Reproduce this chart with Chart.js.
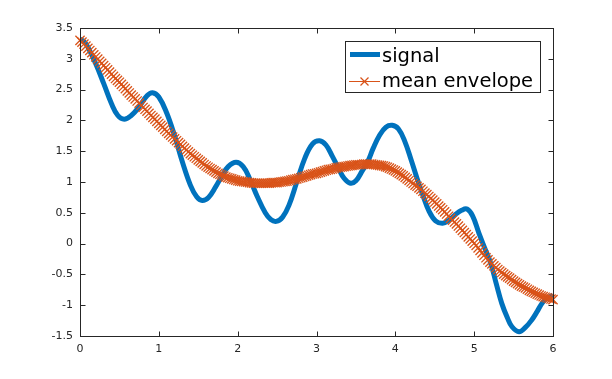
<!DOCTYPE html>
<html>
<head>
<meta charset="utf-8">
<script src="https://cdn.jsdelivr.net/npm/chart.js@4/dist/chart.umd.min.js"></script>
<style>
  body { margin: 0; background: #fff; }
  canvas { display: block; }
</style>
</head>
<body>
<canvas id="plot" width="612" height="379"></canvas>
<script>
// signal (key points)
const signalX = [0, 0.05, 0.1, 0.2, 0.3, 0.4, 0.48, 0.56, 0.65, 0.75, 0.85, 0.92, 1.0, 1.1, 1.2, 1.3, 1.4, 1.48, 1.55,
  1.63, 1.72, 1.8, 1.88, 1.98, 2.07, 2.15, 2.25, 2.35, 2.42, 2.49, 2.57, 2.65, 2.75, 2.85, 2.95, 3.04, 3.12, 3.2,
  3.28, 3.35, 3.43, 3.5, 3.58, 3.65, 3.72, 3.8, 3.88, 3.96, 4.04, 4.12, 4.2, 4.27, 4.34, 4.43, 4.51, 4.6, 4.68, 4.76,
  4.84, 4.91, 4.98, 5.06, 5.13, 5.21, 5.28, 5.35, 5.42, 5.48, 5.57, 5.65, 5.73, 5.8, 5.86, 5.92, 6.0];
const signalY = [3.32, 3.28, 3.19, 2.92, 2.60, 2.27, 2.08, 2.02, 2.08, 2.22, 2.40, 2.45, 2.38, 2.12, 1.75, 1.32, 0.95, 0.76, 0.70,
  0.75, 0.92, 1.10, 1.25, 1.32, 1.25, 1.06, 0.76, 0.50, 0.39, 0.36, 0.43, 0.62, 1.00, 1.38, 1.62, 1.67, 1.60, 1.42,
  1.22, 1.06, 0.98, 1.02, 1.18, 1.33, 1.55, 1.76, 1.89, 1.92, 1.86, 1.66, 1.36, 1.08, 0.82, 0.52, 0.37, 0.33, 0.38, 0.47,
  0.54, 0.56, 0.45, 0.17, -0.06, -0.32, -0.65, -0.97, -1.20, -1.35, -1.43, -1.36, -1.24, -1.10, -0.97, -0.89, -0.84];

// mean envelope (dense samples, each marked with an x)
const envX = [
  0, 0.025, 0.05, 0.075, 0.1, 0.125, 0.15, 0.175, 0.2, 0.225,
  0.25, 0.275, 0.3, 0.325, 0.35, 0.375, 0.4, 0.425, 0.45, 0.475,
  0.5, 0.525, 0.55, 0.575, 0.6, 0.625, 0.65, 0.675, 0.7, 0.725,
  0.75, 0.775, 0.8, 0.825, 0.85, 0.875, 0.9, 0.925, 0.95, 0.975,
  1, 1.025, 1.05, 1.075, 1.1, 1.125, 1.15, 1.175, 1.2, 1.225,
  1.25, 1.275, 1.3, 1.325, 1.35, 1.375, 1.4, 1.425, 1.45, 1.475,
  1.5, 1.525, 1.55, 1.575, 1.6, 1.625, 1.65, 1.675, 1.7, 1.725,
  1.75, 1.775, 1.8, 1.825, 1.85, 1.875, 1.9, 1.925, 1.95, 1.975,
  2, 2.025, 2.05, 2.075, 2.1, 2.125, 2.15, 2.175, 2.2, 2.225,
  2.25, 2.275, 2.3, 2.325, 2.35, 2.375, 2.4, 2.425, 2.45, 2.475,
  2.5, 2.525, 2.55, 2.575, 2.6, 2.625, 2.65, 2.675, 2.7, 2.725,
  2.75, 2.775, 2.8, 2.825, 2.85, 2.875, 2.9, 2.925, 2.95, 2.975,
  3, 3.025, 3.05, 3.075, 3.1, 3.125, 3.15, 3.175, 3.2, 3.225,
  3.25, 3.275, 3.3, 3.325, 3.35, 3.375, 3.4, 3.425, 3.45, 3.475,
  3.5, 3.525, 3.55, 3.575, 3.6, 3.625, 3.65, 3.675, 3.7, 3.725,
  3.75, 3.775, 3.8, 3.825, 3.85, 3.875, 3.9, 3.925, 3.95, 3.975,
  4, 4.025, 4.05, 4.075, 4.1, 4.125, 4.15, 4.175, 4.2, 4.225,
  4.25, 4.275, 4.3, 4.325, 4.35, 4.375, 4.4, 4.425, 4.45, 4.475,
  4.5, 4.525, 4.55, 4.575, 4.6, 4.625, 4.65, 4.675, 4.7, 4.725,
  4.75, 4.775, 4.8, 4.825, 4.85, 4.875, 4.9, 4.925, 4.95, 4.975,
  5, 5.025, 5.05, 5.075, 5.1, 5.125, 5.15, 5.175, 5.2, 5.225,
  5.25, 5.275, 5.3, 5.325, 5.35, 5.375, 5.4, 5.425, 5.45, 5.475,
  5.5, 5.525, 5.55, 5.575, 5.6, 5.625, 5.65, 5.675, 5.7, 5.725,
  5.75, 5.775, 5.8, 5.825, 5.85, 5.875, 5.9, 5.925, 5.95, 5.975,
  6];
const envY = [
  3.30, 3.27, 3.24, 3.205, 3.17, 3.135, 3.10, 3.065, 3.03, 2.995,
  2.96, 2.925, 2.89, 2.855, 2.82, 2.785, 2.75, 2.715, 2.68, 2.65,
  2.62, 2.585, 2.55, 2.515, 2.48, 2.445, 2.41, 2.38, 2.35, 2.315,
  2.28, 2.245, 2.21, 2.18, 2.15, 2.115, 2.08, 2.05, 2.02, 1.985,
  1.95, 1.92, 1.89, 1.855, 1.82, 1.79, 1.76, 1.73, 1.70, 1.67,
  1.64, 1.61, 1.58, 1.55, 1.52, 1.49, 1.46, 1.435, 1.41, 1.385,
  1.36, 1.335, 1.31, 1.285, 1.26, 1.24, 1.22, 1.20, 1.18, 1.16,
  1.14, 1.125, 1.11, 1.095, 1.08, 1.07, 1.06, 1.05, 1.04, 1.03,
  1.02, 1.015, 1.01, 1.005, 1.00, 0.995, 0.99, 0.985, 0.98, 0.98,
  0.98, 0.98, 0.98, 0.98, 0.98, 0.98, 0.98, 0.985, 0.99, 0.99,
  0.99, 0.995, 1.00, 1.005, 1.01, 1.015, 1.02, 1.03, 1.04, 1.045,
  1.05, 1.06, 1.07, 1.08, 1.09, 1.10, 1.11, 1.12, 1.13, 1.135,
  1.14, 1.15, 1.16, 1.17, 1.18, 1.19, 1.20, 1.205, 1.21, 1.22,
  1.23, 1.235, 1.24, 1.245, 1.25, 1.255, 1.26, 1.265, 1.27, 1.275,
  1.28, 1.28, 1.28, 1.285, 1.29, 1.29, 1.29, 1.29, 1.29, 1.285,
  1.28, 1.275, 1.27, 1.265, 1.26, 1.25, 1.24, 1.225, 1.21, 1.195,
  1.18, 1.16, 1.14, 1.12, 1.10, 1.075, 1.05, 1.025, 1.00, 0.975,
  0.95, 0.93, 0.905, 0.88, 0.85, 0.82, 0.795, 0.765, 0.735, 0.705,
  0.675, 0.645, 0.61, 0.58, 0.55, 0.515, 0.48, 0.445, 0.41, 0.38,
  0.35, 0.32, 0.285, 0.25, 0.215, 0.18, 0.145, 0.11, 0.075, 0.04,
  0.005, -0.03, -0.07, -0.11, -0.15, -0.19, -0.23, -0.265, -0.30, -0.33,
  -0.36, -0.39, -0.42, -0.445, -0.47, -0.495, -0.52, -0.54, -0.56, -0.585,
  -0.61, -0.63, -0.65, -0.67, -0.69, -0.705, -0.72, -0.74, -0.76, -0.775,
  -0.79, -0.805, -0.82, -0.835, -0.85, -0.86, -0.87, -0.88, -0.89, -0.90,
  -0.91];

const xTicks = [0, 1, 2, 3, 4, 5, 6];
const xTickLabels = ['0', '1', '2', '3', '4', '5', '6'];
const yTicks = [-1.5, -1, -0.5, 0, 0.5, 1, 1.5, 2, 2.5, 3, 3.5];
const yTickLabels = ['-1.5', '-1', '-0.5', '0', '0.5', '1', '1.5', '2', '2.5', '3', '3.5'];
const seriesNames = ['signal', 'mean envelope'];

const BLUE = '#0072BD';
const ORANGE = '#D95319';
const AXIS = '#262626';

function pts(xs, ys) {
  return xs.map((x, i) => ({ x: x, y: ys[i] }));
}

// matlab-ish box: frame, inward ticks on all sides, legend in the corner
const boxPlugin = {
  id: 'matlabBox',
  afterDraw(chart) {
    const ctx = chart.ctx;
    const a = chart.chartArea;
    const sx = chart.scales.x, sy = chart.scales.y;
    const L = a.left + 0.5, R = a.right + 0.5, T = a.top + 0.5, B = a.bottom + 0.5;
    ctx.save();
    ctx.strokeStyle = AXIS;
    ctx.lineWidth = 1;
    ctx.beginPath();
    xTicks.forEach(v => {
      const px = Math.round(sx.getPixelForValue(v)) + 0.5;
      ctx.moveTo(px, B); ctx.lineTo(px, B - 5);
      ctx.moveTo(px, T); ctx.lineTo(px, T + 5);
    });
    yTicks.forEach(v => {
      const py = Math.round(sy.getPixelForValue(v)) + 0.5;
      ctx.moveTo(L, py); ctx.lineTo(L + 5, py);
      ctx.moveTo(R, py); ctx.lineTo(R - 5, py);
    });
    ctx.stroke();
    ctx.strokeRect(L, T, R - L, B - T);

    // legend
    const lx = 345, ly = 41, lw = 195, lh = 51;
    ctx.fillStyle = '#fff';
    ctx.fillRect(lx, ly, lw, lh);
    ctx.strokeStyle = AXIS;
    ctx.strokeRect(lx + 0.5, ly + 0.5, lw, lh);

    ctx.strokeStyle = BLUE;
    ctx.lineWidth = 5;
    ctx.beginPath();
    ctx.moveTo(350, 54.5); ctx.lineTo(380, 54.5);
    ctx.stroke();

    ctx.strokeStyle = ORANGE;
    ctx.lineWidth = 1.2;
    ctx.beginPath();
    ctx.moveTo(349, 81.5); ctx.lineTo(380, 81.5);
    ctx.moveTo(360.5, 77.5); ctx.lineTo(368.5, 85.5);
    ctx.moveTo(368.5, 77.5); ctx.lineTo(360.5, 85.5);
    ctx.stroke();

    ctx.fillStyle = '#000';
    ctx.font = '19.5px "DejaVu Sans"';
    ctx.textBaseline = 'alphabetic';
    ctx.textAlign = 'left';
    ctx.fillText(seriesNames[0], 382, 62);
    ctx.fillText(seriesNames[1], 382, 87);
    ctx.restore();
  }
};

new Chart(document.getElementById('plot').getContext('2d'), {
  type: 'line',
  data: {
    datasets: [
      {
        label: seriesNames[1],
        data: pts(envX, envY),
        borderColor: ORANGE,
        borderWidth: 1,
        pointStyle: 'crossRot',
        pointRadius: 6.5,
        pointBorderColor: ORANGE,
        pointBorderWidth: 1.3,
        tension: 0,
        clip: false,
        order: 0
      },
      {
        label: seriesNames[0],
        data: pts(signalX, signalY),
        borderColor: BLUE,
        borderWidth: 5,
        pointRadius: 0,
        tension: 0.4,
        clip: false,
        order: 1
      }
    ]
  },
  options: {
    responsive: false,
    animation: false,
    devicePixelRatio: 1,
    layout: { padding: { left: 0, top: 28, right: 59, bottom: 0 } },
    plugins: { legend: { display: false }, tooltip: { enabled: false } },
    scales: {
      x: {
        type: 'linear',
        min: 0,
        max: 6,
        afterBuildTicks: s => { s.ticks = xTicks.map(v => ({ value: v })); },
        afterFit: s => { s.height = 43; },
        grid: { display: false, drawTicks: false },
        border: { display: false },
        ticks: {
          padding: 7,
          color: AXIS,
          font: { family: 'DejaVu Sans', size: 11 },
          maxRotation: 0,
          callback: (v, i) => xTickLabels[i]
        }
      },
      y: {
        type: 'linear',
        min: -1.5,
        max: 3.5,
        afterBuildTicks: s => { s.ticks = yTicks.map(v => ({ value: v })); },
        afterFit: s => { s.width = 80; },
        grid: { display: false, drawTicks: false },
        border: { display: false },
        ticks: {
          padding: 7,
          color: AXIS,
          font: { family: 'DejaVu Sans', size: 11 },
          callback: (v, i) => yTickLabels[i]
        }
      }
    }
  },
  plugins: [boxPlugin]
});
</script>
</body>
</html>
